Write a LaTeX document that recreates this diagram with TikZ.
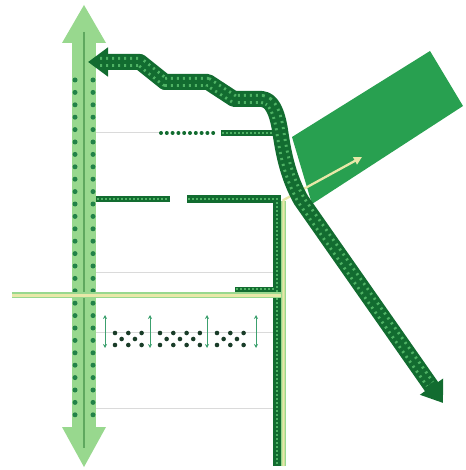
\documentclass[tikz,border=0pt]{standalone}
\usetikzlibrary{arrows.meta}
\definecolor{lightg}{RGB}{152,216,142}
\definecolor{lineg}{RGB}{95,168,95}
\definecolor{dotg}{RGB}{34,130,72}
\definecolor{darkg}{RGB}{18,108,48}
\definecolor{texg}{RGB}{78,178,100}
\definecolor{rectg}{RGB}{40,160,80}
\definecolor{pale}{RGB}{232,232,168}
\definecolor{greyl}{RGB}{218,218,218}
\definecolor{xdot}{RGB}{25,60,40}
\definecolor{arrg}{RGB}{60,160,110}
\tikzset{
  greyline/.style={greyl, line width=1pt},
  darkband/.style={darkg, line width=#1},
  darkband/.default=6.5pt,
  bandtex/.style={texg, line width=2pt, dash pattern=on 1.5pt off 2.5pt},
  paleedge/.style={lightg, line width=6pt},
  palecore/.style={pale, line width=3pt},
  smallarr/.style={arrg, line width=0.8pt, {Stealth[length=4pt,width=4pt]}-{Stealth[length=4pt,width=4pt]}},
  xd/.style={xdot},
}
\begin{document}
\begin{tikzpicture}[x=1pt,y=-1pt]
\useasboundingbox (0,0) rectangle (465,470);
% thin grey lines
\draw[greyline] (96,133) -- (160,133);
\draw[greyline] (96,272) -- (275,272);
\draw[greyline] (96,332) -- (275,332);
\draw[greyline] (96,408) -- (275,408);
% big light green double arrow
\fill[lightg] (84,5) -- (106,43) -- (62,43) -- cycle;
\fill[lightg] (72,42) rectangle (96,428);
\fill[lightg] (62,427) -- (106,427) -- (84,467) -- cycle;
\draw[lineg, line width=2pt] (84,32) -- (84,448);
\draw[dotg, line width=5pt, line cap=round, dash pattern=on 0pt off 12.4pt] (75,80) -- (75,420);
\draw[dotg, line width=5pt, line cap=round, dash pattern=on 0pt off 12.4pt] (93,80) -- (93,420);
% green rectangle
\fill[rectg] (292,137) -- (430,51) -- (463,106) -- (312,204) -- cycle;
% row at y=133
\draw[darkg, line width=4pt, line cap=round, dash pattern=on 0pt off 5.8pt] (161,133) -- (218,133);
\draw[darkband] (221,133) -- (279,133);
\draw[bandtex] (222,133) -- (276,133);
% row at y=199 and vertical band
\draw[darkband] (96,199) -- (170,199);
\draw[bandtex] (97,199) -- (169,199);
\draw[darkband=7.5pt] (187,199) -- (277,199) -- (277,466);
\draw[bandtex] (188,199) -- (277,199) -- (277,466);
% small band above horizontal pale line
\draw[darkband=5pt] (235,289) -- (275,289);
\draw[bandtex] (236,289) -- (274,289);
% horizontal pale line
\draw[paleedge] (12,295) -- (285,295);
\draw[palecore] (12,295) -- (285,295);
% vertical pale line with arrow into rectangle
\draw[lightg, line width=4.5pt] (283.5,466) -- (283.5,201);
\draw[pale, line width=2.3pt, line join=miter, -{Triangle[length=8pt,width=8pt]}] (283.5,466) -- (283.5,200) -- (362,157);
% big dark wavy band
\coordinate (hl) at (88,62);
\coordinate (hr) at (443,403);
\draw[darkg, line width=16pt, line join=round, {Triangle[length=20pt,width=28pt]}-{Triangle[length=20pt,width=27pt]}]
  (hl) -- (140,62) -- (165,82) -- (208,82) -- (234,99) -- (262,99)
  .. controls (272,100) and (277,112) .. (280,130)
  .. controls (283,150) and (287,175) .. (301,200) -- (hr);
\draw[texg, line width=10pt, line join=round, dash pattern=on 2pt off 4pt]
  (100,62) -- (140,62) -- (165,82) -- (208,82) -- (234,99) -- (262,99)
  .. controls (272,100) and (277,112) .. (280,130)
  .. controls (283,150) and (287,175) .. (301,200) -- (430,384);
\draw[darkg, line width=4pt, line join=round]
  (100,62) -- (140,62) -- (165,82) -- (208,82) -- (234,99) -- (262,99)
  .. controls (272,100) and (277,112) .. (280,130)
  .. controls (283,150) and (287,175) .. (301,200) -- (430,384);
% small double arrows
\foreach \x in {105,150,207,256} \draw[smallarr] (\x,315) -- (\x,348);
% X dot patterns
\foreach \xa/\n in {115/2,160/3,217/2} {
  \foreach \i in {0,...,\n} {
    \fill[xd] (\xa+13.3*\i,333) circle (2.3pt);
    \fill[xd] (\xa+13.3*\i,345) circle (2.3pt);
  }
  \pgfmathtruncatemacro{\m}{\n-1}
  \foreach \i in {0,...,\m} \fill[xd] (\xa+6.65+13.3*\i,339) circle (2.3pt);
}
\end{tikzpicture}
\end{document}
